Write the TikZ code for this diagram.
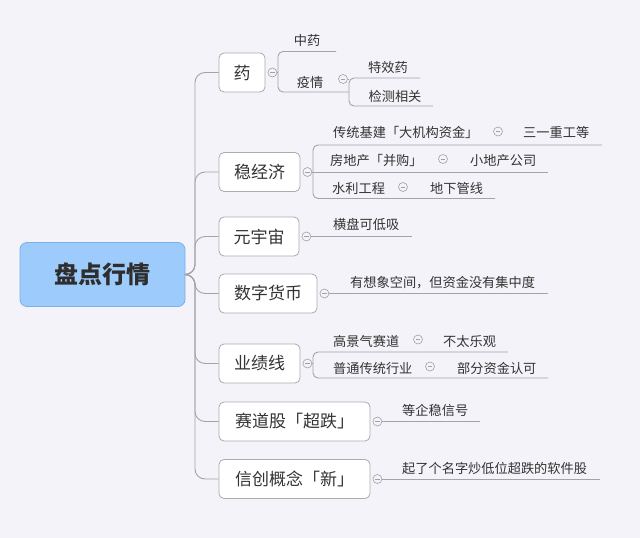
\documentclass[tikz,border=0pt]{standalone}
\usepackage{fontspec}
\setmainfont{Noto Sans CJK SC}
\definecolor{bg}{HTML}{F3F3F9}
\definecolor{linegray}{HTML}{A3A3A8}
\definecolor{boxgray}{HTML}{ABABB0}
\definecolor{circgray}{HTML}{A0A0A5}
\definecolor{txt}{HTML}{333333}
\definecolor{rootfill}{HTML}{9DCBFB}
\definecolor{rootdraw}{HTML}{7DB0E3}
\begin{document}
\begin{tikzpicture}[x=1pt,y=-1pt,
 topic/.style={draw=boxgray, fill=white, rounded corners=5pt, line width=0.8pt,
   font=\fontsize{17}{17}\selectfont, text=txt, inner sep=0pt, minimum height=39pt},
 roottopic/.style={draw=rootdraw, fill=rootfill, rounded corners=7pt, line width=0.8pt,
   font=\fontsize{24}{24}\selectfont\bfseries, text=txt!90!black, inner sep=0pt,
   minimum height=64pt, minimum width=165pt},
 sub/.style={font=\fontsize{13.2}{13.2}\selectfont, text=txt, inner sep=0pt, anchor=west,
   text height=0.88em, text depth=0.12em, yshift=-1.3pt},
 ln/.style={draw=linegray, line width=0.9pt},
 fold/.style={circle, draw=circgray, fill=bg, minimum size=9pt, inner sep=0pt, line width=0.6pt,
   path picture={\draw[circgray, line width=0.6pt]
     ([xshift=-2.2pt]path picture bounding box.center) -- ([xshift=2.2pt]path picture bounding box.center);}}
]
\fill[bg] (0,0) rectangle (640,538);
\useasboundingbox (0,0) rectangle (640,538);

% root
\node[roottopic] (root) at (102.5,274.5) {盘点行情};
\coordinate (trunk) at (195,274.5);

% main topics
\node[topic, minimum width=46pt] (yao) at (242,72.5) {药};
\node[topic, minimum width=81pt] (wjj) at (259.5,172) {稳经济};
\node[topic, minimum width=80pt] (yyz) at (259,236.5) {元宇宙};
\node[topic, minimum width=98pt] (szhb) at (268,293.5) {数字货币};
\node[topic, minimum width=81pt] (yjx) at (259.5,363.5) {业绩线};
\node[topic, minimum width=151pt] (sdg) at (294.5,421.5) {赛道股「超跌」};
\node[topic, minimum width=151pt] (xc) at (294.5,479) {信创概念「新」};

\foreach \t in {yao,wjj,yyz,szhb,yjx,sdg,xc}{
  \draw[ln, rounded corners=10pt] (root.east) -- (trunk) |- (\t.west);
}

% folds on main topics
\foreach \t in {yao,wjj,yyz,szhb,yjx,sdg,xc}{
  \node[fold] (f\t) at ([xshift=7pt]\t.east) {};
}

% ---- 药 subtree
\node[sub, anchor=center] (zy) at (307,40) {中药};
\node[sub, anchor=center] (yq) at (310,82) {疫情};
\coordinate (yaoB) at (278,72.5);
\coordinate (zyL) at (278,51.5);
\coordinate (zyR) at (336,51.5);
\coordinate (yqL) at (278,92);
\coordinate (yqR) at (349,92);
\draw[ln] (fyao) -- (yaoB);
\draw[ln, rounded corners=5pt] (zyR) -- (zyL) -- (yqL) -- (yqR);
\node[fold] (fyq) at (343,79) {};
\node[sub, anchor=center] (txy) at (388,67) {特效药};
\node[sub, anchor=center] (jcxg) at (395,96) {检测相关};
\coordinate (yqB) at (349,79);
\coordinate (txyL) at (349,78);
\coordinate (txyR) at (420,78);
\coordinate (jcL) at (349,106);
\coordinate (jcR) at (433,106);
\draw[ln] (fyq) -- (yqB);
\draw[ln, rounded corners=5pt] (txyR) -- (txyL) -- (jcL) -- (jcR);

% ---- 稳经济 subtree
\coordinate (wB) at (313,172);
\coordinate (w1L) at (313,145);
\coordinate (w1R) at (602,145);
\coordinate (w2R) at (548,172);
\coordinate (w3L) at (313,198.5);
\coordinate (w3R) at (495,198.5);
\draw[ln] (fwjj) -- (wB);
\draw[ln] (wB) -- (w2R);
\draw[ln, rounded corners=5pt] (w1R) -- (w1L) -- (w3L) -- (w3R);
\node[sub] (ctjj) at (333,132) {传统基建「大机构资金」};
\node[fold] (fctjj) at (498,131.5) {};
\node[sub] (syzg) at (523,132) {三一重工等};
\node[sub] (fdc) at (330,160) {房地产「并购」};
\node[fold] (ffdc) at (443,159) {};
\node[sub] (xdc) at (470,160) {小地产公司};
\node[sub] (slgc) at (332,188) {水利工程};
\node[fold] (fslgc) at (403,187) {};
\node[sub] (dxgx) at (430,188) {地下管线};

% ---- 元宇宙
\coordinate (yyzR) at (412,236.5);
\draw[ln] (fyyz) -- (yyzR);
\node[sub] (hp) at (333,224) {横盘可低吸};

% ---- 数字货币
\coordinate (szR) at (548,293.5);
\draw[ln] (fszhb) -- (szR);
\node[sub] (yxx) at (350,282) {有想象空间，但资金没有集中度};

% ---- 业绩线
\coordinate (yB) at (313,363.5);
\coordinate (y1L) at (313,352);
\coordinate (y1R) at (508,352);
\coordinate (y2L) at (313,378);
\coordinate (y2R) at (548,378);
\draw[ln] (fyjx) -- (yB);
\draw[ln, rounded corners=5pt] (y1R) -- (y1L) -- (y2L) -- (y2R);
\node[sub] (gjq) at (333,341) {高景气赛道};
\node[fold] (fgjq) at (418,339.5) {};
\node[sub] (btlg) at (443,341) {不太乐观};
\node[sub] (pt) at (333,368) {普通传统行业};
\node[fold] (fpt) at (430,366.5) {};
\node[sub] (bfzj) at (457,368) {部分资金认可};

% ---- 赛道股
\coordinate (sdR) at (480,421.5);
\draw[ln] (fsdg) -- (sdR);
\node[sub] (dqw) at (402,410) {等企稳信号};

% ---- 信创
\coordinate (xcR) at (600,479);
\draw[ln] (fxc) -- (xcR);
\node[sub] (qlg) at (402,468) {起了个名字炒低位超跌的软件股};
\end{tikzpicture}
\end{document}
